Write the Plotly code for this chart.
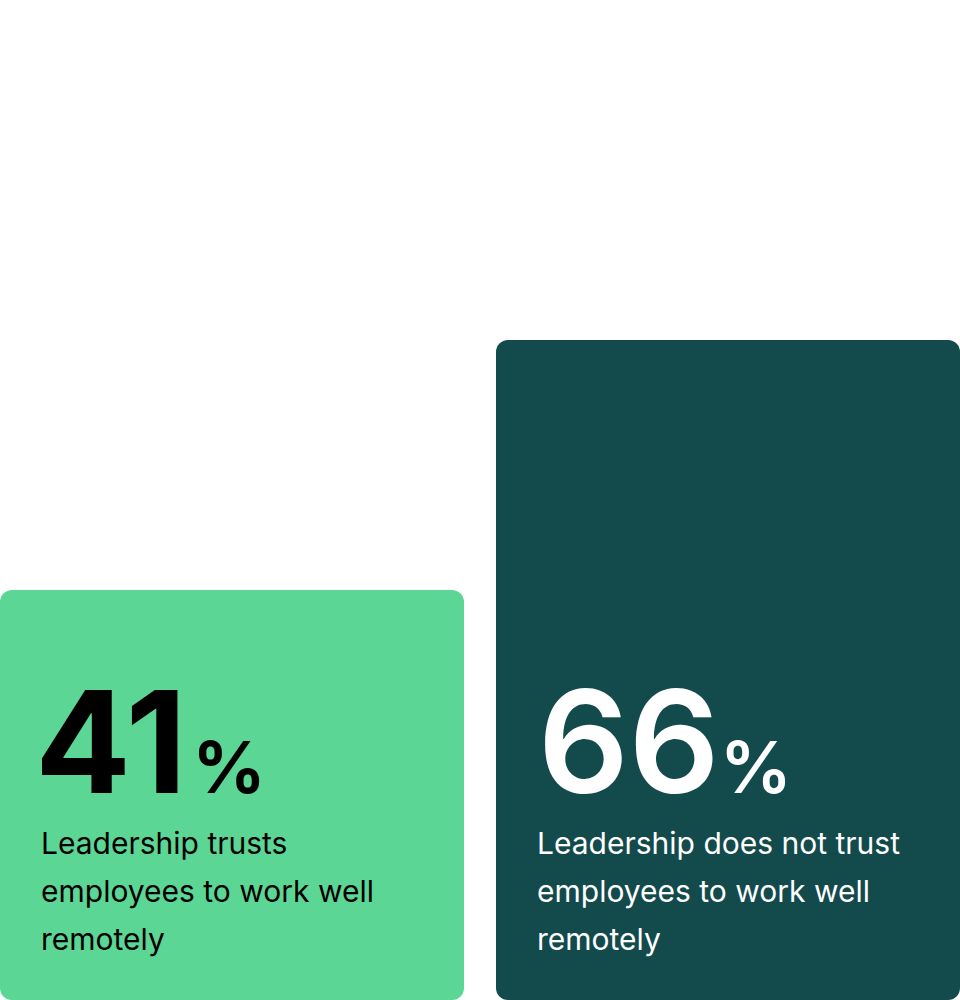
import plotly.graph_objects as go

# data
categories = ["trusts", "does not trust"]
values = [41, 66]
labels = [
    ["Leadership trusts", "employees to work well", "remotely"],
    ["Leadership does not trust", "employees to work well", "remotely"],
]
bar_colors = ["#5CD695", "#134A4C"]
text_colors = ["#000000", "#FFFFFF"]
number_weights = [700, 600]
number_shift = [33, 40]
pct_spacer = ["\u200a", ""]  # small optical gap before the % sign

FONT = "Inter"
BAR_W = 464 / 496  # bar width in category units (464px bars, 32px gap)
RADIUS = 12

fig = go.Figure()

# each bar drawn as two overlapping halves so both ends get rounded corners
fig.add_trace(go.Bar(
    x=categories,
    base=[v / 2 for v in values],
    y=[-v / 2 for v in values],
    width=BAR_W,
    marker=dict(color=bar_colors, line_width=0, cornerradius=RADIUS),
    hoverinfo="skip",
))
fig.add_trace(go.Bar(
    x=categories,
    base=[v * 0.45 for v in values],
    y=[v * 0.55 for v in values],
    width=BAR_W,
    marker=dict(color=bar_colors, line_width=0, cornerradius=RADIUS),
    hoverinfo="skip",
))

annotations = []
for i, v in enumerate(values):
    left = i - BAR_W / 2
    annotations.append(dict(
        x=left, y=17.1, xref="x", yref="y",
        xanchor="left", yanchor="bottom", xshift=number_shift[i],
        text=f"{v}<span style='font-size:72px'>{pct_spacer[i]}%</span>",
        showarrow=False,
        font=dict(family=FONT, size=142, color=text_colors[i], weight=number_weights[i]),
    ))
    for j, line in enumerate(labels[i]):
        annotations.append(dict(
            x=left, y=13.67 - 4.8 * j, xref="x", yref="y",
            xanchor="left", yanchor="bottom", xshift=39,
            text=line,
            showarrow=False,
            font=dict(family=FONT, size=30, color=text_colors[i]),
        ))

fig.update_layout(
    width=960,
    height=1000,
    margin=dict(l=0, r=0, t=0, b=0),
    barmode="overlay",
    showlegend=False,
    paper_bgcolor="white",
    plot_bgcolor="white",
    xaxis=dict(visible=False, range=[-BAR_W / 2, 1 + BAR_W / 2]),
    yaxis=dict(visible=False, range=[0, 100]),
    annotations=annotations,
)

fig.write_html(
    "out.html",
    config={"displayModeBar": False},
    post_script="document.body.style.margin='0';",
)
